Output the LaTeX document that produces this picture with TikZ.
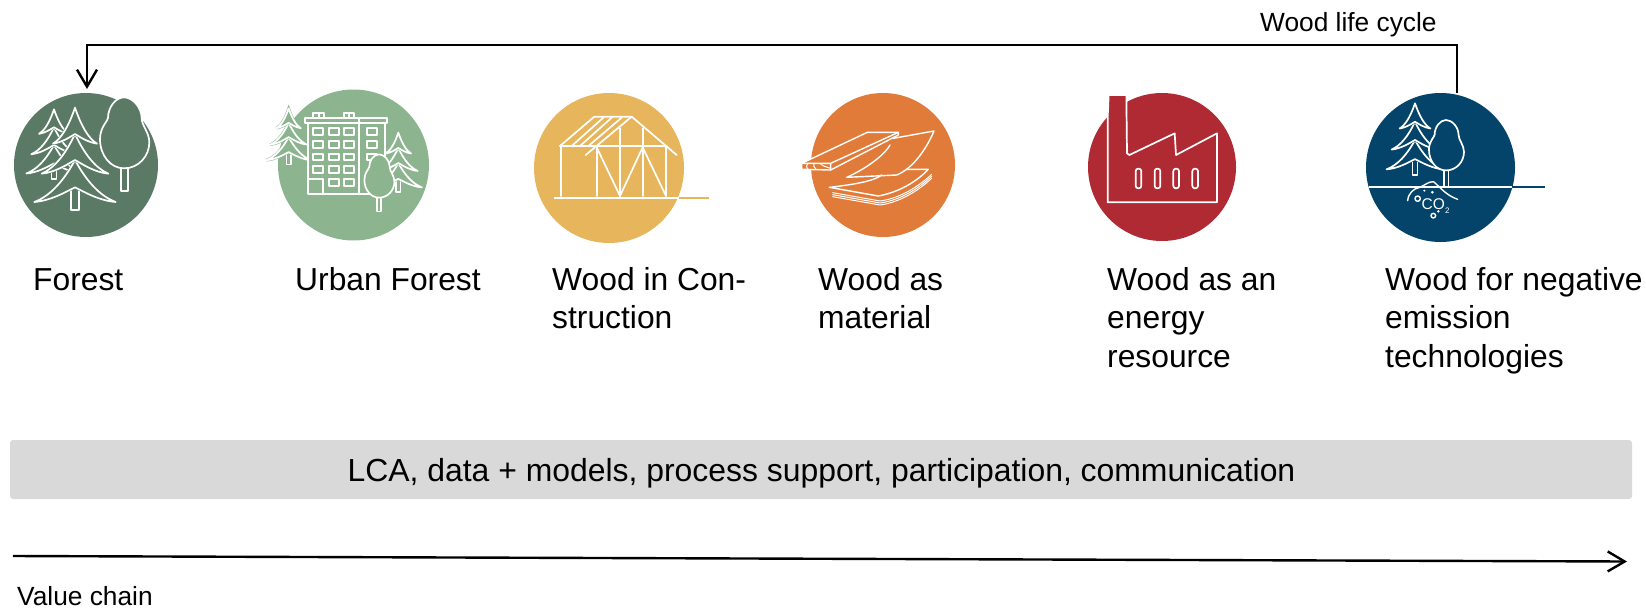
\documentclass[tikz,border=0pt]{standalone}
\usepackage{fontspec}
\setmainfont{Liberation Sans}
\usetikzlibrary{arrows.meta}
\definecolor{cforest}{HTML}{5A7A66}
\definecolor{curban}{HTML}{8CB58F}
\definecolor{chouse}{HTML}{E6B55C}
\definecolor{cmat}{HTML}{E07B39}
\definecolor{cfact}{HTML}{B02A33}
\definecolor{cneg}{HTML}{04446A}
\definecolor{cbar}{HTML}{D9D9D9}
\tikzset{
  disc/.style={circle,inner sep=0pt,minimum size=#1,draw=none},
  lbl/.style={anchor=north west,inner sep=0pt,align=left,font=\fontsize{31.8}{38.2}\selectfont,text=black},
  small/.style={anchor=base west,inner sep=0pt,font=\fontsize{26.3}{30}\selectfont,text=black},
  ico/.style={draw=white,line width=1.7pt,line join=round,line cap=round},
  halo/.style={draw=#1,fill=#1,line width=2.6pt,line join=miter,miter limit=3},
  conn/.style={draw=black,line width=2.4pt},
  tip/.style={-{Straight Barb[length=17pt,width=20pt,line width=2.4pt]}}
}
% one tier of a spruce: apex y, half width, tip y, bottom y
\newcommand{\tierpath}[4]{(0,#1) .. controls ({-0.28*#2},{#1+0.5*(#3-#1)}) and ({-0.6*#2},{#3-0.15*(#3-#1)}) .. ({-#2},#3)
   .. controls ({-0.6*#2},{#3-4}) and ({-0.25*#2},{#4+0.35*(#3-#4)}) .. (0,#4)
   .. controls ({0.25*#2},{#4+0.35*(#3-#4)}) and ({0.6*#2},{#3-4}) .. ({#2},#3)
   .. controls ({0.6*#2},{#3-0.15*(#3-#1)}) and ({0.28*#2},{#1+0.5*(#3-#1)}) .. cycle}
\newcommand{\tier}[5]{%
  \path[halo=#5] \tierpath{#1}{#2}{#3}{#4};
  \path[ico] \tierpath{#1}{#2}{#3}{#4};}
\newcommand{\spruce}[4]{%
  \begin{scope}[shift={(#1,#2)},x=#3*1pt/3,y=-#3*1pt/3]
   \path[ico,fill=#4] (-11,235) -- (-11,307) -- (11,307) -- (11,235) -- cycle;
   \tier{157}{122}{283}{239}{#4}
   \tier{79}{100}{198}{157}{#4}
   \tier{0}{66}{108}{79}{#4}
  \end{scope}}
\newcommand{\roundtree}[4]{%
  \begin{scope}[shift={(#1,#2)},x=#3*1pt/3,y=-#3*1pt/3]
   \path[ico] (-9,213) -- (-9,281) -- (11,281) -- (11,213);
   \path[ico,fill=#4] (0,0) .. controls (-25,0) and (-48,30) .. (-48,62)
     .. controls (-48,70) and (-72,90) .. (-72,125) .. controls (-72,175) and (-40,213) .. (0,213)
     .. controls (45,213) and (76,175) .. (76,135) .. controls (76,105) and (53,85) .. (53,62)
     .. controls (53,30) and (25,0) .. (0,0) -- cycle;
  \end{scope}}
\begin{document}
\begin{tikzpicture}[x=1pt,y=-1pt]
\useasboundingbox (0,0) rectangle (1646,608);
% discs
\node[disc=144pt,fill=cforest] (forest) at (86,165) {};
\node[disc=151pt,fill=curban] (urban) at (353.5,165) {};
\node[disc=150pt,fill=chouse] (house) at (609,168) {};
\node[disc=144pt,fill=cmat] (mat) at (883,165) {};
\node[disc=148pt,fill=cfact] (fact) at (1162,167) {};
\node[disc=149pt,fill=cneg] (neg) at (1440.5,167.5) {};

% forest icon
\begin{scope}[shift={(0,60)},x=1pt/3,y=-1pt/3]
 \spruce{162}{148}{0.68}{cforest}
 \spruce{225}{143}{1}{cforest}
 \roundtree{372}{112}{1}{cforest}
\end{scope}
% urban icon
\begin{scope}[shift={(0,60)},x=1pt/3,y=-1pt/3]
 \spruce{866}{145}{0.55}{curban}
 \spruce{1195}{218}{0.58}{curban}
 \path[ico,fill=curban] (925,188) rectangle (1155,403);
 \path[ico] (916,174) rectangle (1162,188);
 \path[ico] (940,174) |- (972,158) -- (972,174) (956,158) -- (956,174);
 \path[ico] (1032,174) |- (1062,158) -- (1062,174) (1047,158) -- (1047,174);
 \path[ico] (1077,174) -- (1077,403);
 \foreach \wx in {940,986,1032} \foreach \wy in {205,243,281}
   \path[ico] (\wx,\wy) rectangle ++(30,20);
 \foreach \wx in {940,986,1032} \path[ico] (\wx,319) rectangle ++(30,20);
 \foreach \wx in {986,1032} \path[ico] (\wx,357) rectangle ++(30,20);
 \foreach \wy in {205,243,281} \path[ico] (1100,\wy) rectangle ++(30,20);
 \path[ico] (925,358) -| (970,403);
 \roundtree{1137}{283}{0.61}{curban}
\end{scope}
% house icon
\begin{scope}[shift={(510,70)},x=1pt/3,y=-1pt/3]
 \path[ico,line cap=butt] (132,384) -- (508,384);
 \path[draw=chouse,line width=2pt] (508,384) -- (597,384);
 \path[ico] (152,228) -- (152,378) (150,228) -- (470,228) (260,228) -- (260,378)
   (468,232) -- (468,378) (330,175) -- (330,378) (398,175) -- (398,378);
 \path[ico] (260,232) -- (330,378) -- (398,232) -- (468,378);
 \path[ico] (150,228) -- (253,140) -- (365,140) -- (500,255);
 \path[ico] (365,140) -- (227,255);
 \path[ico] (185,228) -- (280,143) (210,228) -- (305,143) (235,228) -- (335,143);
\end{scope}
% material icon
\begin{scope}[shift={(510,70)},x=1pt/3,y=-1pt/3]
 \path[ico,line width=1.4pt,fill=cmat] (875,280) -- (1072,187) -- (1165,187) -- (1165,195) -- (962,300) -- (875,298) -- cycle;
 \path[ico,line width=1.4pt] (875,280) -- (962,280) -- (1165,187) (962,280) -- (962,300);
 \path[ico,line width=1pt] (895,280) .. controls (888,286) and (888,292) .. (895,298)
   (912,280) .. controls (908,286) and (912,292) .. (918,298)
   (930,280) .. controls (935,286) and (945,290) .. (962,295);
 \path[ico,line width=1.4pt] (1150,205) -- (1272,183) .. controls (1250,235) and (1210,295) .. (1160,315)
   -- (1010,322) .. controls (1060,300) and (1120,260) .. (1140,225);
 \path[ico,line width=1.4pt] (1190,298) -- (1255,298) .. controls (1215,340) and (1160,368) .. (1105,378)
   -- (958,352) .. controls (1020,345) and (1090,335) .. (1115,315);
 \foreach \dy in {0,6,12} \path[ico,line width=1pt] (968,{368+\dy}) -- (1110,{393+\dy}) .. controls (1170,{385+\dy}) and (1225,{350+\dy}) .. (1265,{313+\dy});
\end{scope}
% factory icon
\begin{scope}[shift={(1070,70)},x=1pt/3,y=-1pt/3]
 \path[ico,fill=cfact] (113,397) -- (441,397) -- (441,190) -- (318,255) -- (314,190) -- (178,255) -- (171,250) -- (169,75) -- (116,75) -- (113,145) -- cycle;
 \foreach \wx in {197,254,310,367}
   \path[ico,rounded corners=2.5pt] (\wx,296) rectangle ++(17,59);
\end{scope}
% negative emission icon
\begin{scope}[shift={(1070,70)},x=1pt/3,y=-1pt/3]
 \spruce{1035}{100}{0.7}{cneg}
 \roundtree{1128}{150}{0.71}{cneg}
 \path[ico,line cap=butt] (897,351) -- (1325,351);
 \path[draw=cneg,line width=2pt] (1325,351) -- (1425,351);
 \path[ico,line width=1.4pt] (1013,392) .. controls (1015,370) and (1030,355) .. (1050,352)
   .. controls (1065,345) and (1075,335) .. (1090,335) .. controls (1105,345) and (1125,375) .. (1163,388);
 \path[ico,line width=1.4pt] (1043,386) circle[radius=8] (1090,437) circle[radius=7];
 \fill[white] (1063,362) circle[radius=3.5] (1087,367) circle[radius=4.5] (1105,424) circle[radius=4];
 \node[inner sep=0pt,text=white,font=\fontsize{15.5}{16}\selectfont] (co) at (1090,402) {CO};
 \node[inner sep=0pt,text=white,font=\fontsize{8}{9}\selectfont] (two) at (1132,422) {2};
\end{scope}

% labels
\node[lbl] (l1) at (33,268) {Forest};
\node[lbl] (l2) at (295,267.5) {Urban Forest};
\node[lbl] (l3) at (552,267.5) {Wood in Con-\\struction};
\node[lbl] (l4) at (818,267.5) {Wood as\\material};
\node[lbl] (l5) at (1107,267.5) {Wood as an\\energy\\resource};
\node[lbl] (l6) at (1385,267.5) {Wood for negative\\emission\\technologies};
\node[small] (lc) at (1260,31) {Wood life cycle};
\node[small] (vc) at (17,605) {Value chain};
% bar
\node[fill=cbar,rounded corners=3pt,minimum width=1622pt,minimum height=59pt,inner sep=0pt] (bar) at (821,469.5) {};
\node[anchor=base,inner sep=0pt,text=black,font=\fontsize{31.9}{38}\selectfont] (bartext) at (821.5,481.7) {LCA, data + models, process support, participation, communication};
% connectors
\coordinate (ls) at (1457,93);
\coordinate (le) at (87,89);
\coordinate (va) at (13,556);
\coordinate (vb) at (1627,561.5);
\draw[conn,tip] (ls) -- (ls |- 0,45) -| (le);
\draw[conn,tip] (va) -- (vb);
\end{tikzpicture}
\end{document}
